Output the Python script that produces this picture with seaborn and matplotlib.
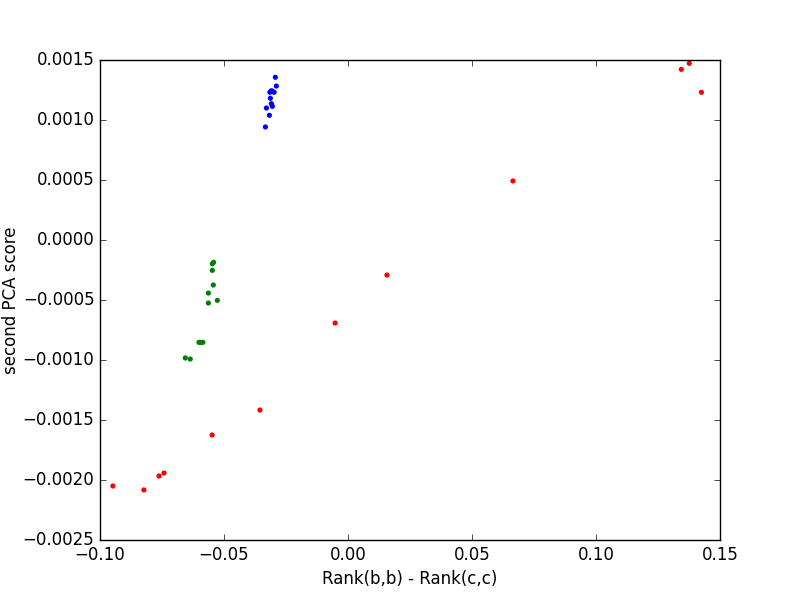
import matplotlib
matplotlib.use('Agg')
import matplotlib.pyplot as plt
import seaborn as sns
import pandas as pd

# points, one group per colour
red_x = [-0.0948, -0.0823, -0.0762, -0.0742, -0.0548, -0.0355, -0.0052, 0.0157, 0.0665, 0.1344, 0.1376, 0.1425]
red_y = [-0.00205, -0.002083, -0.001967, -0.001942, -0.001625, -0.001417, -0.000692, -0.000292, 0.000492, 0.001422, 0.001472, 0.001231]

green_x = [-0.0542, -0.0547, -0.0547, -0.0543, -0.0563, -0.0527, -0.0563, -0.0601, -0.0593, -0.0585, -0.0656, -0.0636]
green_y = [-0.000186, -0.000198, -0.000253, -0.000375, -0.000442, -0.000503, -0.000525, -0.000853, -0.000853, -0.000853, -0.000983, -0.000992]

blue_x = [-0.0293, -0.0289, -0.0310, -0.0306, -0.0298, -0.0315, -0.0313, -0.0309, -0.0305, -0.0329, -0.0317, -0.0333]
blue_y = [0.001356, 0.001283, 0.001242, 0.001242, 0.001231, 0.001231, 0.001181, 0.001136, 0.001114, 0.0011, 0.001039, 0.000942]

df = pd.DataFrame({
    'x': red_x + green_x + blue_x,
    'y': red_y + green_y + blue_y,
    'group': ['r'] * len(red_x) + ['g'] * len(green_x) + ['b'] * len(blue_x),
})

plt.style.use('classic')
fig, ax = plt.subplots(figsize=(8, 6), dpi=100)
fig.patch.set_facecolor('white')

palette = {'r': (1, 0, 0), 'g': (0, 0.5, 0), 'b': (0, 0, 1)}
sns.scatterplot(data=df, x='x', y='y', hue='group', palette=palette,
                s=14, linewidth=0, legend=False, ax=ax)

ax.set_xlim(-0.10, 0.15)
ax.set_ylim(-0.0025, 0.0015)
ax.set_xlabel('Rank(b,b) - Rank(c,c)')
ax.set_ylabel('second PCA score', labelpad=2)
ax.ticklabel_format(useOffset=False)

plt.savefig('out.png', dpi=100, facecolor='white')
plt.close()
